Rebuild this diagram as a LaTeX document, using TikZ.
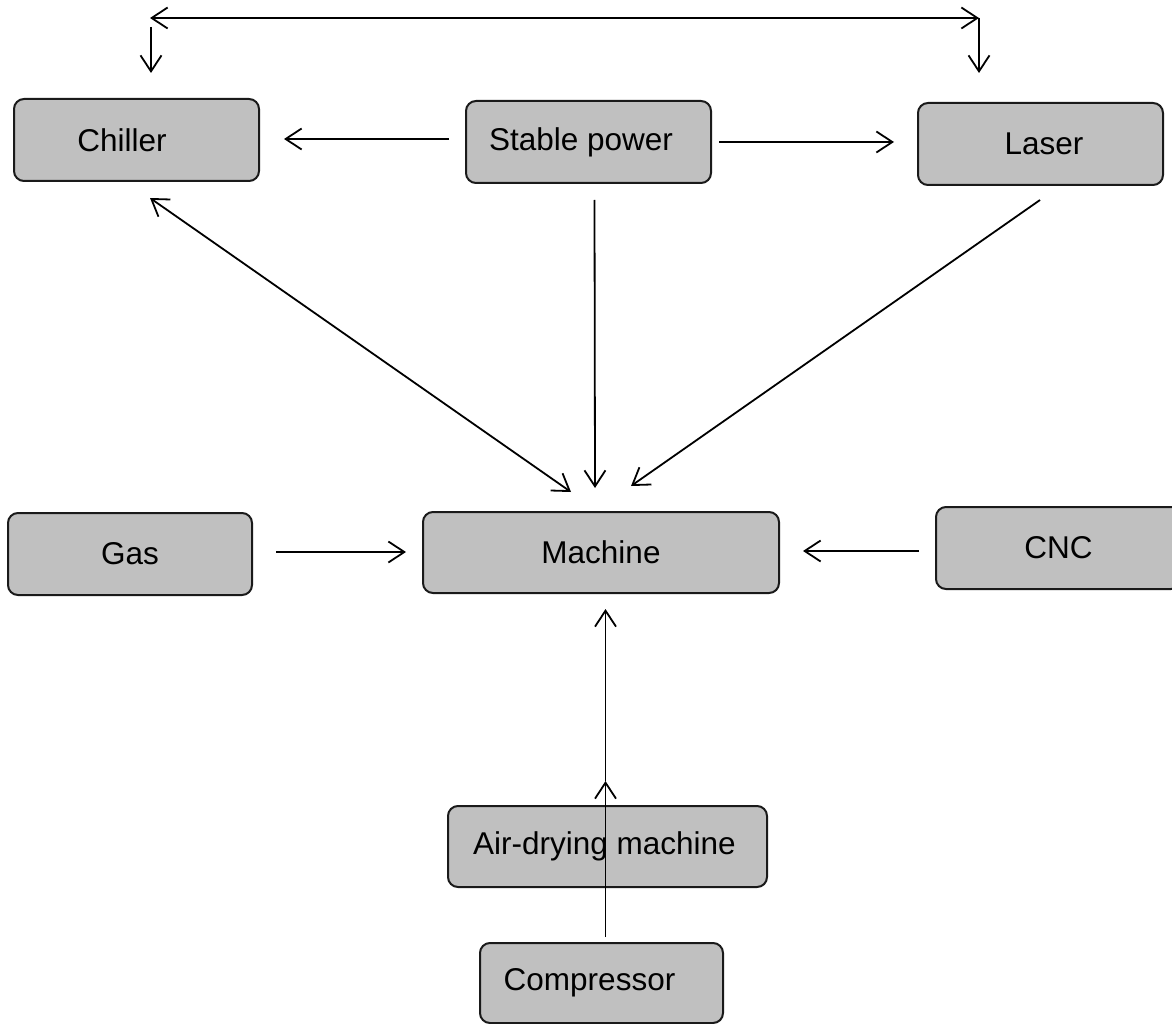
\documentclass[tikz,border=0pt]{standalone}
\usepackage{fontspec}
\setmainfont{Liberation Sans}
\usetikzlibrary{arrows.meta,calc}
\definecolor{boxgray}{HTML}{C0C0C0}
\definecolor{edgeline}{HTML}{1A1A1A}
\begin{document}
\begin{tikzpicture}[x=1pt,y=-1pt,
  box/.style={draw=edgeline, line width=2pt, fill=boxgray, rounded corners=10pt,
    minimum height=82pt, inner sep=0pt, text=black,
    font=\fontsize{31.5}{38}\selectfont},
  tip/.tip={Straight Barb[length=16pt,width=21pt]},
  link/.style={line width=1.8pt, draw=black, -tip},
  both/.style={line width=1.8pt, draw=black, tip-tip},
]
\useasboundingbox (0,0) rectangle (1172,1024);
\clip (0,0) rectangle (1172,1024);

% units
\node[box, minimum width=245pt] (chiller) at (136.5,140) {\hspace*{-29pt}Chiller};
\node[box, minimum width=245pt] (sp)      at (588.5,142) {\hspace*{-15pt}Stable power};
\node[box, minimum width=245pt] (laser)   at (1040.5,144) {Laser\hspace*{-7pt}};
\node[box, minimum width=244pt] (gas)     at (130,554) {Gas};
\node[box, minimum width=356pt, minimum height=81pt] (machine) at (601,552.5) {Machine};
\node[box, minimum width=245pt] (cnc)     at (1058.5,548) {CNC};
\node[box, minimum width=319pt, minimum height=81pt] (air) at (607.5,846.5) {\hspace*{-6pt}Air-drying machine};
\node[box, minimum width=243pt, minimum height=80pt] (comp) at (601.5,983) {\hspace*{-24pt}Compressor};

% cooling loop between chiller and laser
\coordinate (tl) at (150,18);
\coordinate (tr) at (979,18);
\coordinate (tlb) at (151,73);
\coordinate (trb) at (979,73);
\draw[both] (tl) -- (tr);
\draw[link] ($(tl)+(1,9)$) -- (tlb);
\draw[link] (tr) -- (trb);

% power distribution
\draw[link] ($(sp.west)+(-16,-3)$) -- ($(chiller.east)+(24,-1)$);
\draw[link] ($(sp.east)+(7,0)$) -- ($(laser.west)+(-23,-2)$);
\draw[link] ($(sp.south)+(6,16)$) -- ($(machine.north)+(-6,-23)$);

% feeds into the machine
\draw[both] ($(chiller.south)+(13.5,16)$) -- ($(machine.north)+(-30,-19)$);
\draw[link] ($(laser.south)+(-0.5,14)$) -- ($(machine.north)+(30,-25)$);
\draw[link] ($(gas.east)+(23,-2)$) -- ($(machine.west)+(-16,-0.5)$);
\draw[link] ($(cnc.west)+(-16,3)$) -- ($(machine.east)+(23,-1.5)$);

% compressed air line
\coordinate (airtop) at ($(air.north)+(-2,-24)$);
\draw[link] ($(comp.north)+(4,-5)$) -- (airtop);
\draw[link] (airtop) -- ($(machine.south)+(4.5,15)$);
\end{tikzpicture}
\end{document}
